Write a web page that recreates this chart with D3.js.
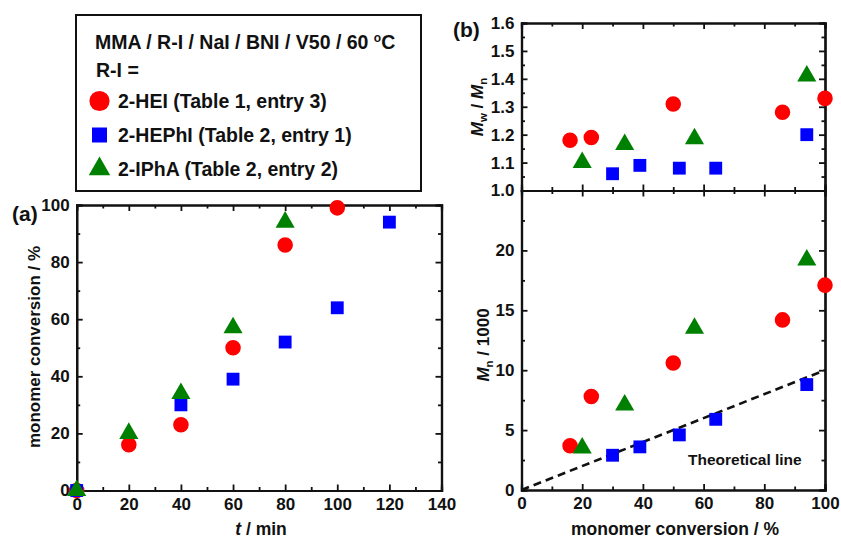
<!DOCTYPE html>
<html><head><meta charset="utf-8">
<script src="https://cdn.jsdelivr.net/npm/d3@7"></script>
<style>
body{margin:0;background:#fff}
svg{font-family:"Liberation Sans",Arial,Helvetica,sans-serif;font-weight:bold}
</style>
</head><body>
<svg id="chart" width="841" height="540"></svg>
<script>
// ---- Panel (a): monomer conversion vs time ----
const timeHEI   = [0, 20, 40, 60, 80, 100];
const convTimeHEI   = [0, 16, 23, 50, 86, 99];
const timeHEPhI = [0, 40, 60, 80, 100, 120];
const convTimeHEPhI = [0, 30, 39, 52, 64, 94];
const timeIPhA  = [0, 20, 40, 60, 80];
const convTimeIPhA  = [0, 20, 34, 57, 94];

// ---- Panel (b): Mw/Mn and Mn vs conversion ----
const convHEI   = [16, 23, 50, 86, 100];
const pdiHEI    = [1.18, 1.19, 1.31, 1.28, 1.33];
const mnHEI     = [3.7, 7.8, 10.6, 14.2, 17.1];
const convHEPhI = [30, 39, 52, 64, 94];
const pdiHEPhI  = [1.06, 1.09, 1.08, 1.08, 1.20];
const mnHEPhI   = [2.9, 3.6, 4.6, 5.9, 8.8];
const convIPhA  = [20, 34, 57, 94];
const pdiIPhA   = [1.10, 1.165, 1.185, 1.41];
const mnIPhA    = [3.5, 7.1, 13.5, 19.2];
const theoryConv = [0, 100];
const theoryMn   = [0, 10];

// ---- tick values ----
const ticksTime = [0, 20, 40, 60, 80, 100, 120, 140];
const ticksConvPct = [0, 20, 40, 60, 80, 100];
const ticksPdi = [1.0, 1.1, 1.2, 1.3, 1.4, 1.5, 1.6];
const ticksMn = [0, 5, 10, 15, 20, 25];
const labelsMn = ["0", "5", "10", "15", "20", ""];

const svg = d3.select("#chart");

const colors = {HEI: "#ff0000", HEPhI: "#0000ff", IPhA: "#008000"};
const shapes = {HEI: d3.symbolCircle, HEPhI: d3.symbolSquare, IPhA: d3.symbolTriangle};
const sizes  = {HEI: 190, HEPhI: 165, IPhA: 158};

const mid = (arr) => arr.slice(0, -1).map((v, i) => (v + arr[i + 1]) / 2);

// Box frame with inward major/minor ticks on all four sides
function frame(x, y, major, opts) {
  const [x0, x1] = x.range();
  const [y0, y1] = y.range(); // y0 bottom, y1 top
  const g = svg.append("g");
  const sides = [
    {ax: d3.axisBottom(x), tr: `translate(0,${y0})`, vals: major.x, lab: opts.xLabels},
    {ax: d3.axisTop(x),    tr: `translate(0,${y1})`, vals: major.x, lab: null},
    {ax: d3.axisLeft(y),   tr: `translate(${x0},0)`, vals: major.y, lab: opts.yLabels},
    {ax: d3.axisRight(y),  tr: `translate(${x1},0)`, vals: major.y, lab: null}
  ];
  sides.forEach(s => {
    const fmt = s.lab ? ((d, i) => s.lab[i]) : () => "";
    g.append("g").attr("transform", s.tr)
      .call(s.ax.tickValues(mid(s.vals)).tickSize(-3.5).tickFormat(""));
    g.append("g").attr("transform", s.tr).attr("class", "maj")
      .call(s.ax.tickValues(s.vals).tickSize(-6).tickPadding(7).tickFormat(fmt));
  });
  g.selectAll("path.domain").attr("stroke", "#111").attr("stroke-width", 2.2);
  g.selectAll(".tick line").attr("stroke", "#111").attr("stroke-width", 1.8);
  g.selectAll(".tick text").attr("fill", "#111").attr("font-size", 17)
    .attr("font-family", "Liberation Sans, Arial, sans-serif").attr("font-weight", "bold");
  return g;
}

function points(x, y, xs, ys, key) {
  svg.append("g").selectAll("path").data(xs.map((v, i) => [v, ys[i]])).join("path")
    .attr("transform", d => `translate(${x(d[0])},${y(d[1])})`)
    .attr("d", d3.symbol().type(shapes[key]).size(sizes[key]))
    .attr("fill", colors[key]);
}

// ---- Panel (a) ----
const xa = d3.scaleLinear().domain([0, 140]).range([76.7, 441.5]);
const ya = d3.scaleLinear().domain([0, 100]).range([490.5, 205]);
frame(xa, ya, {x: ticksTime, y: ticksConvPct},
  {xLabels: ticksTime.map(String), yLabels: ticksConvPct.map(String)});
points(xa, ya, timeHEI, convTimeHEI, "HEI");
points(xa, ya, timeHEPhI, convTimeHEPhI, "HEPhI");
points(xa, ya, timeIPhA, convTimeIPhA, "IPhA");

// ---- Panel (b) top: Mw/Mn ----
const xb = d3.scaleLinear().domain([0, 100]).range([521.5, 825]);
const yb1 = d3.scaleLinear().domain([1.0, 1.6]).range([190.5, 23]);
frame(xb, yb1, {x: ticksConvPct, y: ticksPdi},
  {xLabels: null, yLabels: ticksPdi.map(d => d.toFixed(1))});
points(xb, yb1, convHEI, pdiHEI, "HEI");
points(xb, yb1, convHEPhI, pdiHEPhI, "HEPhI");
points(xb, yb1, convIPhA, pdiIPhA, "IPhA");

// ---- Panel (b) bottom: Mn ----
const yb2 = d3.scaleLinear().domain([0, 25]).range([490, 190.5]);
frame(xb, yb2, {x: ticksConvPct, y: ticksMn},
  {xLabels: ticksConvPct.map(String), yLabels: labelsMn});
svg.append("path")
  .datum(theoryConv.map((v, i) => [v, theoryMn[i]]))
  .attr("d", d3.line().x(d => xb(d[0])).y(d => yb2(d[1])))
  .attr("fill", "none").attr("stroke", "#111").attr("stroke-width", 2.6)
  .attr("stroke-dasharray", "8,5");
points(xb, yb2, convHEI, mnHEI, "HEI");
points(xb, yb2, convHEPhI, mnHEPhI, "HEPhI");
points(xb, yb2, convIPhA, mnIPhA, "IPhA");

svg.append("text").attr("x", 688).attr("y", 465).attr("font-size", 15.5)
  .attr("fill", "#111").text("Theoretical line");

// ---- Axis titles ----
svg.append("text").attr("transform", "translate(40,347) rotate(-90)")
  .attr("text-anchor", "middle").attr("font-size", 17).attr("fill", "#111")
  .text("monomer conversion / %");

const ta = svg.append("text").attr("x", 261).attr("y", 535)
  .attr("text-anchor", "middle").attr("font-size", 17.5).attr("fill", "#111");
ta.append("tspan").attr("font-style", "italic").text("t");
ta.append("tspan").text(" / min");

svg.append("text").attr("x", 675).attr("y", 535)
  .attr("text-anchor", "middle").attr("font-size", 17.5).attr("fill", "#111")
  .text("monomer conversion / %");

const tPdi = svg.append("text").attr("transform", "translate(483,107) rotate(-90)")
  .attr("text-anchor", "middle").attr("font-size", 17).attr("fill", "#111");
tPdi.append("tspan").attr("font-style", "italic").text("M");
tPdi.append("tspan").attr("font-size", 11.5).attr("dy", 4).text("w");
tPdi.append("tspan").attr("dy", -4).text(" / ");
tPdi.append("tspan").attr("font-style", "italic").text("M");
tPdi.append("tspan").attr("font-size", 11.5).attr("dy", 4).text("n");

const tMn = svg.append("text").attr("transform", "translate(489,345) rotate(-90)")
  .attr("text-anchor", "middle").attr("font-size", 17).attr("fill", "#111");
tMn.append("tspan").attr("font-style", "italic").text("M");
tMn.append("tspan").attr("font-size", 11.5).attr("dy", 4).text("n");
tMn.append("tspan").attr("dy", -4).text(" / 1000");

// Panel letters
svg.append("text").attr("x", 12).attr("y", 221).attr("font-size", 21).attr("fill", "#111").text("(a)");
svg.append("text").attr("x", 453).attr("y", 37).attr("font-size", 21).attr("fill", "#111").text("(b)");

// ---- Legend ----
const lg = svg.append("g");
lg.append("rect").attr("x", 76).attr("y", 15).attr("width", 345).attr("height", 176)
  .attr("fill", "#fff").attr("stroke", "#111").attr("stroke-width", 2);
const l1 = lg.append("text").attr("x", 95).attr("y", 49).attr("font-size", 19.5).attr("fill", "#111");
l1.append("tspan").text("MMA / R-I / NaI / BNI / V50 / 60 ");
l1.append("tspan").attr("font-size", 12).attr("dy", -7).text("o");
l1.append("tspan").attr("dy", 7).text("C");
lg.append("text").attr("x", 96).attr("y", 77).attr("font-size", 19.5).attr("fill", "#111").text("R-I =");

const legendKeys = ["HEI", "HEPhI", "IPhA"];
const legendLabels = ["2-HEI (Table 1, entry 3)", "2-HEPhI (Table 2, entry 1)", "2-IPhA (Table 2, entry 2)"];
const legendSizes = {HEI: 320, HEPhI: 225, IPhA: 200};
const legendY = [108, 142, 176];
legendKeys.forEach((k, i) => {
  lg.append("path")
    .attr("transform", `translate(99.5,${legendY[i] - 7})`)
    .attr("d", d3.symbol().type(shapes[k]).size(legendSizes[k]))
    .attr("fill", colors[k]);
  lg.append("text").attr("x", 118).attr("y", legendY[i]).attr("font-size", 19.5)
    .attr("fill", "#111").text(legendLabels[i]);
});
</script>
</body></html>
